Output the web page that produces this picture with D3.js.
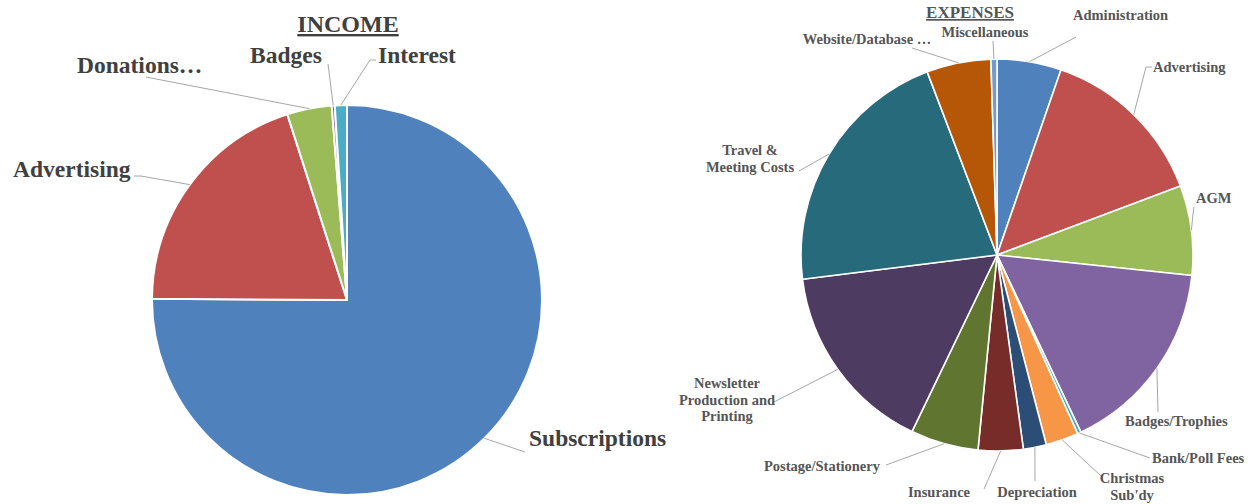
<!DOCTYPE html>
<html>
<head>
<meta charset="utf-8">
<script src="https://cdn.jsdelivr.net/npm/d3@7"></script>
<style>
  html, body { margin: 0; padding: 0; background: #ffffff; }
  svg { display: block; }
</style>
</head>
<body>
<svg id="chart" width="1258" height="504"></svg>
<script>
// ---------- DATA ----------
const incomeTitle = "INCOME";
const incomeCategories = ["Subscriptions", "Advertising", "Donations…", "Badges", "Interest"];
const incomeValues = [75.1, 19.95, 3.7, 0.25, 1.0];

const expenseTitle = "EXPENSES";
const expenseCategories = [
  "Administration", "Advertising", "AGM", "Badges/Trophies", "Bank/Poll Fees",
  "Christmas\nSub'dy", "Depreciation", "Insurance", "Postage/Stationery",
  "Newsletter\nProduction and\nPrinting", "Travel &\nMeeting Costs",
  "Website/Database …", "Miscellaneous"
];
const expenseValues = [5.3, 14.0, 7.4, 16.3, 0.3, 2.7, 1.9, 3.7, 5.6, 15.9, 21.2, 5.3, 0.5];

// ---------- STYLE / LAYOUT ----------
const incomeColors = ["#4F81BD", "#C0504D", "#9BBB59", "#8064A2", "#4BACC6"];
const expenseColors = ["#4F81BD", "#C0504D", "#9BBB59", "#8064A2", "#4BACC6", "#F79646",
  "#2C4D75", "#772C2A", "#5F7530", "#4D3B62", "#276A7C", "#B65708", "#729ACA"];

const FONT = "'Liberation Serif', 'Times New Roman', serif";

const incomeLayout = {
  cx: 347, cy: 300, r: 195, stroke: 2,
  title: { x: 348, y: 32, size: 24 },
  fontSize: 23.5, color: "#404040", lineH: 24,
  labels: [
    { x: 529, y: 446, anchor: "start", lead: [[525, 452]] },
    { x: 13, y: 177, anchor: "start", lead: [[134, 176], [141, 176]] },
    { x: 77, y: 73, anchor: "start", lead: [[146, 77]] },
    { x: 250, y: 63, anchor: "start", lead: [[328, 64]] },
    { x: 378, y: 63, anchor: "start", lead: [[376, 60], [370, 60]] }
  ]
};

const expenseLayout = {
  cx: 997, cy: 255, r: 196, stroke: 1.6,
  title: { x: 970, y: 18, size: 17 },
  fontSize: 14.5, color: "#555555", lineH: 16.5,
  labels: [
    { x: 1073, y: 20, anchor: "start", lead: [[1076, 37]] },
    { x: 1153, y: 72, anchor: "start", lead: [[1152, 67], [1146, 67]] },
    { x: 1196, y: 203, anchor: "start", lead: [[1194, 207], [1193, 214]] },
    { x: 1125, y: 426, anchor: "start", lead: [[1158, 412]] },
    { x: 1152, y: 463, anchor: "start", lead: [[1150, 458]] },
    { x: 1132, y: 483, anchor: "middle", lead: [[1101, 476]] },
    { x: 1037, y: 497, anchor: "middle", lead: [[1035, 481]] },
    { x: 939, y: 497, anchor: "middle", lead: [[984, 489]] },
    { x: 822, y: 471, anchor: "middle", lead: [[886, 465]] },
    { x: 727, y: 388, anchor: "middle", lead: [[772, 403]] },
    { x: 750, y: 155, anchor: "middle", lead: [[799, 171]] },
    { x: 867, y: 44, anchor: "middle", lead: [[912, 48]] },
    { x: 985, y: 37, anchor: "middle", lead: [[993, 41]] }
  ]
};

const svg = d3.select("#chart");

function drawPie(title, cats, vals, colors, L) {
  const g = svg.append("g");
  const data = cats.map((c, i) => ({ cat: c, value: vals[i], color: colors[i], lay: L.labels[i] }));
  const pie = d3.pie().value(d => d.value).sort(null);
  const arcs = pie(data);
  const arc = d3.arc().innerRadius(0).outerRadius(L.r);

  const pg = g.append("g").attr("transform", `translate(${L.cx},${L.cy})`);
  pg.selectAll("path.slice").data(arcs).join("path")
    .attr("class", "slice")
    .attr("d", arc)
    .attr("fill", d => d.data.color)
    .attr("stroke", "#ffffff")
    .attr("stroke-width", L.stroke)
    .attr("stroke-linejoin", "round");

  // leader lines: label side -> slice mid-angle on rim
  const line = d3.line();
  g.selectAll("path.leader").data(arcs).join("path")
    .attr("class", "leader")
    .attr("d", d => {
      const a = (d.startAngle + d.endAngle) / 2;
      const rim = [L.cx + L.r * Math.sin(a), L.cy - L.r * Math.cos(a)];
      return line(d.data.lay.lead.concat([rim]));
    })
    .attr("fill", "none")
    .attr("stroke", "#A6A6A6")
    .attr("stroke-width", 1);

  // labels
  const lbl = g.selectAll("text.lbl").data(arcs).join("text")
    .attr("class", "lbl")
    .attr("x", d => d.data.lay.x)
    .attr("y", d => d.data.lay.y)
    .attr("text-anchor", d => d.data.lay.anchor)
    .attr("font-family", FONT)
    .attr("font-weight", "bold")
    .attr("font-size", L.fontSize)
    .attr("fill", L.color);
  lbl.each(function (d) {
    const parts = d.data.cat.split("\n");
    d3.select(this).selectAll("tspan").data(parts).join("tspan")
      .attr("x", d.data.lay.x)
      .attr("dy", (p, i) => i === 0 ? 0 : L.lineH)
      .text(p => p);
  });

  // title (underlined)
  g.append("text")
    .attr("x", L.title.x)
    .attr("y", L.title.y)
    .attr("text-anchor", "middle")
    .attr("font-family", FONT)
    .attr("font-weight", "bold")
    .attr("font-size", L.title.size)
    .attr("fill", L.color)
    .attr("text-decoration", "underline")
    .text(title);
}

drawPie(incomeTitle, incomeCategories, incomeValues, incomeColors, incomeLayout);
drawPie(expenseTitle, expenseCategories, expenseValues, expenseColors, expenseLayout);
</script>
</body>
</html>
